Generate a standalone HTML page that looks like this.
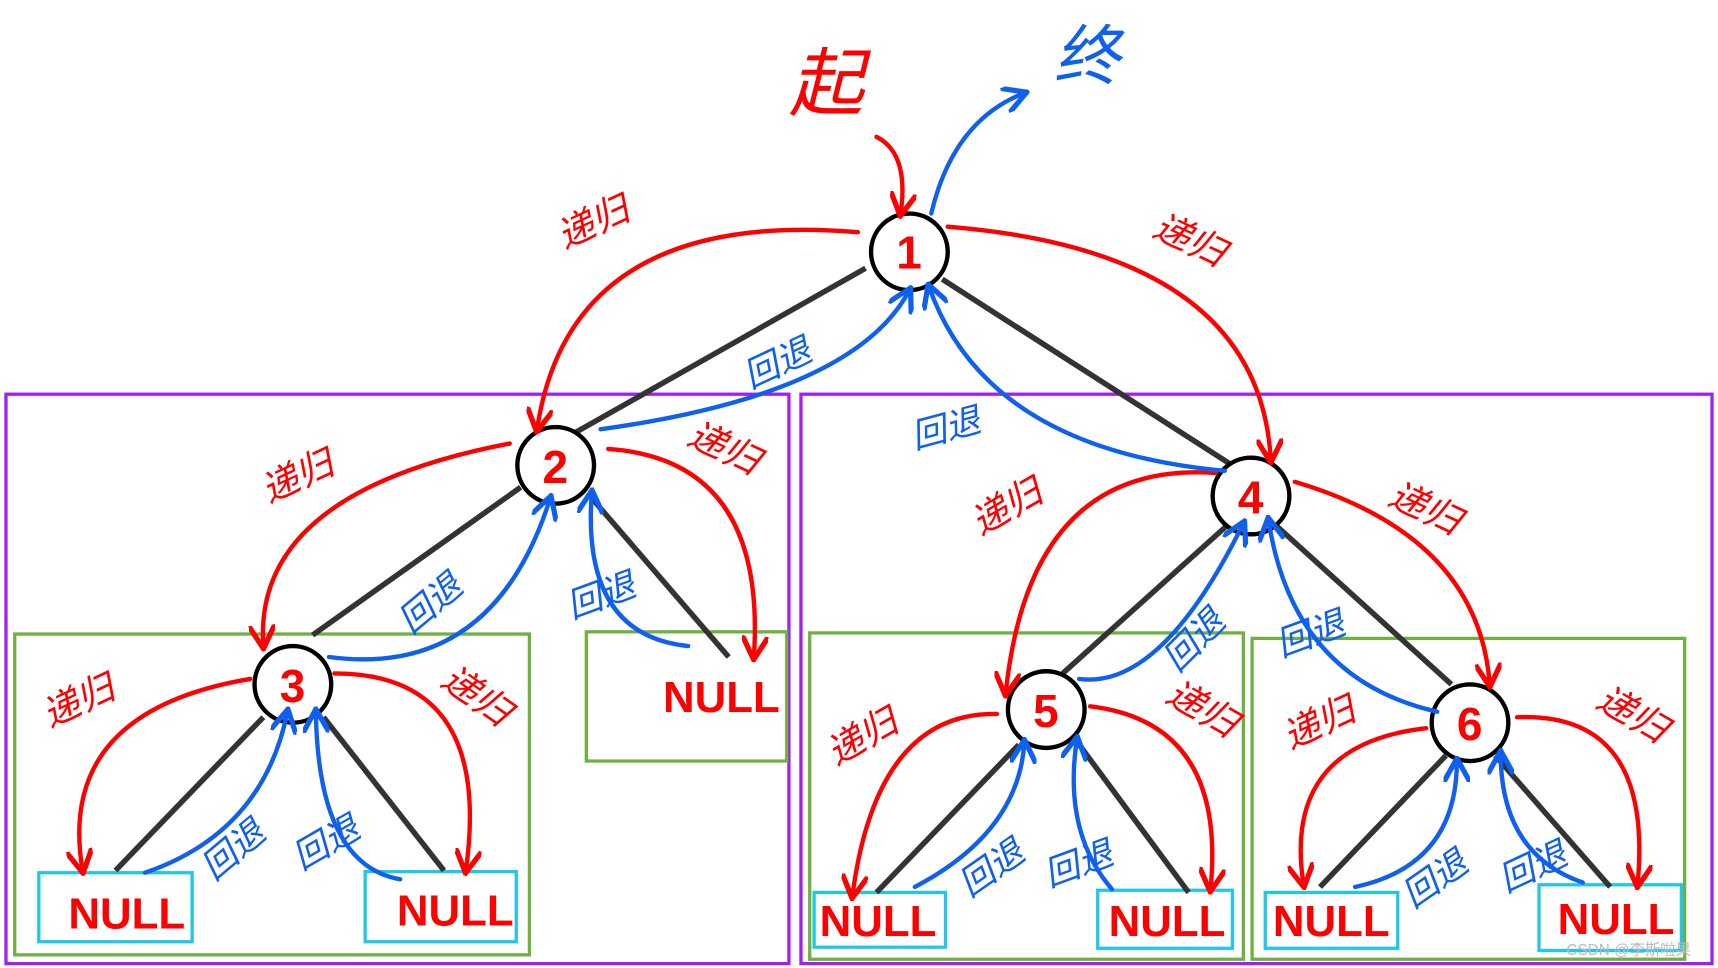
<!DOCTYPE html>
<html><head><meta charset="utf-8"><style>
html,body{margin:0;padding:0;background:#fff}
svg{display:block}
.r{fill:none;stroke:#f00;stroke-width:4;stroke-linecap:round}
.b{fill:none;stroke:#1060f0;stroke-width:4;stroke-linecap:round}
.k{stroke:#333;stroke-width:5}
.rt{fill:#f00;font-family:"Liberation Sans","Noto Sans CJK SC",sans-serif;font-style:italic}
.bt{fill:#1060f0;font-family:"Liberation Sans","Noto Sans CJK SC",sans-serif;font-style:italic}
.n{fill:#f00;font-family:"Liberation Sans",sans-serif;font-weight:bold;font-size:42px}
.nu{fill:#f00;font-family:"Liberation Sans",sans-serif;font-weight:bold;font-size:40px}
</style></head><body>
<svg width="1718" height="968" viewBox="0 0 1568 884" xmlns="http://www.w3.org/2000/svg">
<defs>
<marker id="ar" viewBox="0 0 10 10" refX="8" refY="5" markerWidth="6" markerHeight="6" orient="auto"><path d="M0,0 L9,5 L0,10" fill="none" stroke="#f00" stroke-width="2"/></marker>
<marker id="ab" viewBox="0 0 10 10" refX="8" refY="5" markerWidth="6" markerHeight="6" orient="auto"><path d="M0,0 L9,5 L0,10" fill="none" stroke="#1060f0" stroke-width="2"/></marker>
</defs>
<!-- boxes -->
<g fill="none">
<rect x="5" y="360" width="715" height="520" stroke="#a020f0" stroke-width="3"/>
<rect x="731" y="360" width="832" height="520" stroke="#a020f0" stroke-width="3"/>
<rect x="13" y="579" width="470" height="293" stroke="#70b040" stroke-width="3"/>
<rect x="535" y="577" width="183" height="118" stroke="#70b040" stroke-width="3"/>
<rect x="739" y="578" width="396" height="298" stroke="#70b040" stroke-width="3"/>
<rect x="1143" y="583" width="395" height="293" stroke="#70b040" stroke-width="3"/>
<g stroke="#20c8e8" stroke-width="3">
<rect x="35" y="797" width="140" height="63"/>
<rect x="333" y="796" width="138" height="64"/>
<rect x="743" y="815" width="120" height="50"/>
<rect x="1002" y="813" width="123" height="53"/>
<rect x="1155" y="815" width="121" height="51"/>
<rect x="1405" y="808" width="130" height="60"/>
</g>
</g>
<!-- black edges -->
<g class="k">
<line x1="790" y1="245" x2="525" y2="395"/>
<line x1="860" y1="255" x2="1125" y2="425"/>
<line x1="475" y1="445" x2="285" y2="580"/>
<line x1="540" y1="455" x2="665" y2="600"/>
<line x1="240" y1="655" x2="105" y2="795"/>
<line x1="295" y1="655" x2="405" y2="795"/>
<line x1="1120" y1="480" x2="970" y2="615"/>
<line x1="1165" y1="480" x2="1325" y2="625"/>
<line x1="930" y1="680" x2="800" y2="815"/>
<line x1="985" y1="680" x2="1085" y2="815"/>
<line x1="1320" y1="690" x2="1205" y2="810"/>
<line x1="1365" y1="690" x2="1470" y2="810"/>
</g>
<!-- nodes -->
<g fill="#fff" stroke="#000" stroke-width="4">
<circle cx="830" cy="230" r="35"/>
<circle cx="507" cy="425" r="35"/>
<circle cx="267" cy="625" r="35"/>
<circle cx="1142" cy="453" r="35"/>
<circle cx="955" cy="648" r="35"/>
<circle cx="1342" cy="660" r="35"/>
</g>
<text class="n" x="818" y="245">1</text>
<text class="n" x="495" y="441">2</text>
<text class="n" x="255" y="641">3</text>
<text class="n" x="1130" y="469">4</text>
<text class="n" x="943" y="664">5</text>
<text class="n" x="1330" y="676">6</text>
<!-- NULL -->
<text class="nu" x="62" y="848">NULL</text>
<text class="nu" x="362" y="845">NULL</text>
<text class="nu" x="605" y="650">NULL</text>
<text class="nu" x="748" y="855">NULL</text>
<text class="nu" x="1012" y="855">NULL</text>
<text class="nu" x="1162" y="855">NULL</text>
<text class="nu" x="1422" y="853">NULL</text>
<!-- red arrows -->
<g class="r" marker-end="url(#ar)">
<path d="M800,125 Q830,140 822,195"/>
<path d="M783,212 Q520,190 490,392"/>
<path d="M865,207 Q1150,230 1160,420"/>
<path d="M465,405 Q230,450 240,590"/>
<path d="M555,410 Q700,420 688,600"/>
<path d="M228,620 Q50,650 75,795"/>
<path d="M305,615 Q450,615 425,795"/>
<path d="M1110,432 Q940,420 918,633"/>
<path d="M1182,440 Q1350,490 1360,625"/>
<path d="M910,652 Q800,650 778,818"/>
<path d="M995,645 Q1120,660 1105,812"/>
<path d="M1302,665 Q1170,680 1190,808"/>
<path d="M1385,655 Q1510,650 1495,808"/>
</g>
<!-- blue arrows -->
<g class="b" marker-end="url(#ab)">
<path d="M850,195 Q870,110 935,85"/>
<path d="M548,392 Q780,360 830,265"/>
<path d="M1118,430 Q900,410 848,262"/>
<path d="M300,600 Q450,620 502,455"/>
<path d="M628,590 Q530,580 540,450"/>
<path d="M132,797 Q240,760 262,650"/>
<path d="M365,803 Q290,790 288,650"/>
<path d="M985,620 Q1060,630 1135,478"/>
<path d="M1312,650 Q1180,620 1158,475"/>
<path d="M835,810 Q930,760 935,678"/>
<path d="M1015,812 Q970,760 983,675"/>
<path d="M1237,810 Q1330,790 1330,695"/>
<path d="M1445,806 Q1370,780 1370,688"/>
</g>
<!-- labels -->
<text class="rt" x="720" y="100" font-size="68">起</text>
<text class="bt" x="962" y="72" font-size="60">终</text>
<g class="rt" font-size="34">
<text x="515" y="228" transform="rotate(-25 515 228)">递归</text>
<text x="1050" y="215" transform="rotate(25 1050 215)">递归</text>
<text x="245" y="460" transform="rotate(-25 245 460)">递归</text>
<text x="625" y="405" transform="rotate(25 625 405)">递归</text>
<text x="45" y="665" transform="rotate(-25 45 665)">递归</text>
<text x="400" y="625" transform="rotate(35 400 625)">递归</text>
<text x="895" y="490" transform="rotate(-30 895 490)">递归</text>
<text x="1265" y="460" transform="rotate(25 1265 460)">递归</text>
<text x="763" y="700" transform="rotate(-30 763 700)">递归</text>
<text x="1062" y="640" transform="rotate(30 1062 640)">递归</text>
<text x="1178" y="685" transform="rotate(-25 1178 685)">递归</text>
<text x="1455" y="645" transform="rotate(30 1455 645)">递归</text>
</g>
<g class="bt" font-size="32">
<text x="685" y="355" transform="rotate(-25 685 355)">回退</text>
<text x="835" y="410" transform="rotate(-15 835 410)">回退</text>
<text x="375" y="580" transform="rotate(-40 375 580)">回退</text>
<text x="522" y="565" transform="rotate(-20 522 565)">回退</text>
<text x="195" y="805" transform="rotate(-40 195 805)">回退</text>
<text x="275" y="795" transform="rotate(-30 275 795)">回退</text>
<text x="1075" y="615" transform="rotate(-45 1075 615)">回退</text>
<text x="1170" y="600" transform="rotate(-20 1170 600)">回退</text>
<text x="885" y="820" transform="rotate(-35 885 820)">回退</text>
<text x="958" y="810" transform="rotate(-20 958 810)">回退</text>
<text x="1290" y="830" transform="rotate(-35 1290 830)">回退</text>
<text x="1375" y="815" transform="rotate(-25 1375 815)">回退</text>
</g>
<text x="1430" y="872" font-size="14" fill="#bbb" font-family="Liberation Sans,'Noto Sans CJK SC',sans-serif">CSDN @李斯啦果</text>
</svg>
</body></html>
